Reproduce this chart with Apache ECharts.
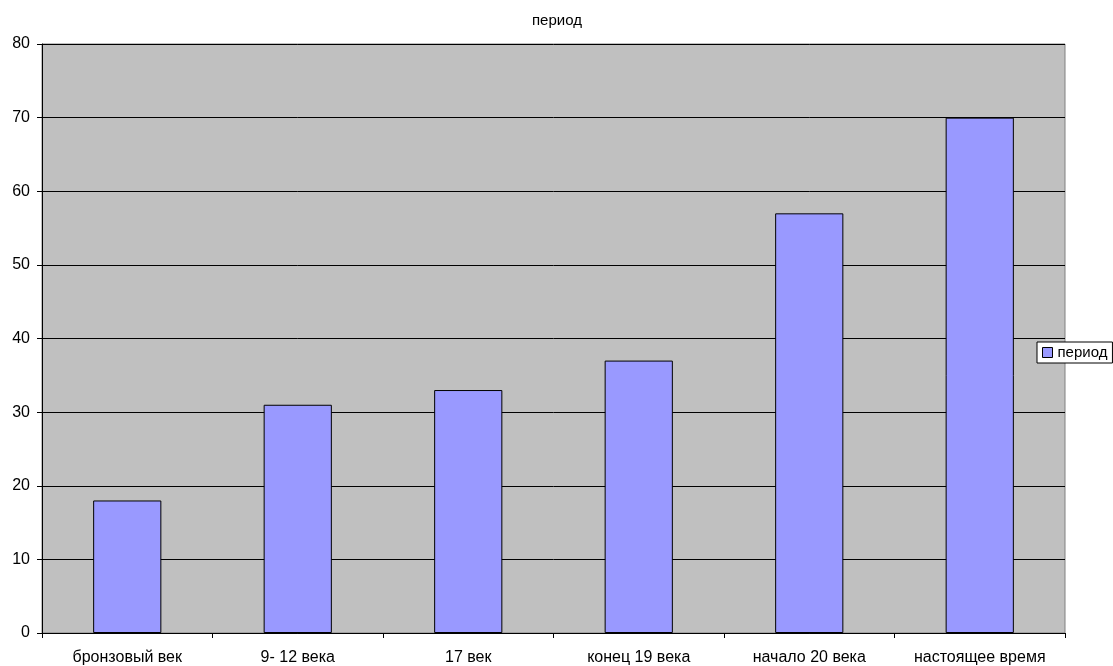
<!DOCTYPE html>
<html><head><meta charset="utf-8">
<script src="https://cdn.jsdelivr.net/npm/echarts@6/dist/echarts.min.js"></script>
<style>html,body{margin:0;padding:0;background:#fff}#c{width:1113px;height:666px}</style>
</head><body><div id="c"></div>
<script>
var categories = ['бронзовый век', '9- 12 века', '17 век', 'конец 19 века', 'начало 20 века', 'настоящее время'];
var values = [18, 31, 33, 37, 57, 70];
var seriesName = 'период';
var chart = echarts.init(document.getElementById('c'));
var font = 'Liberation Sans, Arial, sans-serif';
chart.setOption({
  animation: false,
  backgroundColor: '#fff',
  title: { text: 'период', left: 527, top: 8,
    textStyle: { fontFamily: font, fontSize: 15, fontWeight: 'normal', color: '#000' } },
  legend: {
    data: [seriesName], left: 1037, top: 342, orient: 'vertical',
    icon: 'rect', itemWidth: 10, itemHeight: 10, itemGap: 0,
    backgroundColor: '#fff', borderColor: '#000', borderWidth: 1,
    padding: [3, 5, 3, 5],
    textStyle: { fontFamily: font, fontSize: 15, color: '#000', padding: [0, 0, 0, 0] },
    itemStyle: { borderColor: '#000', borderWidth: 1 }
  },
  grid: { left: 42, right: 48, top: 44, bottom: 32, show: true,
    backgroundColor: '#c0c0c0', borderColor: '#808080', borderWidth: 1 },
  xAxis: {
    type: 'category', data: categories,
    axisLine: { lineStyle: { color: '#000' } },
    axisTick: { show: true, length: 5, alignWithLabel: false, lineStyle: { color: '#000' } },
    axisLabel: { fontFamily: font, fontSize: 16, color: '#000', margin: 17, interval: 0 }
  },
  yAxis: {
    type: 'value', min: 0, max: 80, interval: 10,
    axisLine: { show: true, lineStyle: { color: '#000' } },
    axisTick: { show: true, length: 5, lineStyle: { color: '#000' } },
    axisLabel: { fontFamily: font, fontSize: 16, color: '#000', margin: 12 },
    splitLine: { show: true, lineStyle: { color: '#000', width: 1 } }
  },
  series: [{
    name: seriesName, type: 'bar', data: values, barWidth: '40%',
    itemStyle: { color: '#9999ff', borderColor: '#000', borderWidth: 1 }
  }]
});
</script></body></html>
